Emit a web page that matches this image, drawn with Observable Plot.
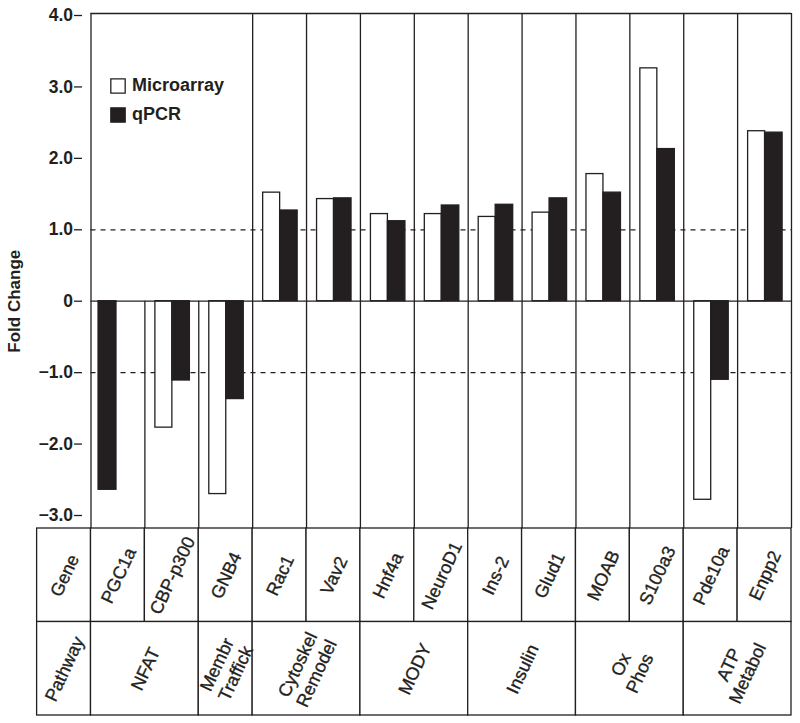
<!DOCTYPE html>
<html>
<head>
<meta charset="utf-8">
<script src="https://cdn.jsdelivr.net/npm/d3@7"></script>
<script src="https://cdn.jsdelivr.net/npm/@observablehq/plot@0.6"></script>
<style>
  html, body { margin: 0; padding: 0; background: #fff; }
  #wrap { width: 800px; }
  #wrap svg { display: block; overflow: visible; }
  #table { margin-top: -1px; }
</style>
</head>
<body>
<div id="wrap"><div id="chart"></div><div id="table"></div></div>
<script>
// ---- data ----
const genes = ["PGC1a","CBP-p300","GNB4","Rac1","Vav2","Hnf4a","NeuroD1","Ins-2","Glud1","MOAB","S100a3","Pde10a","Enpp2"];
const microarray = [null, -1.77, -2.70, 1.52, 1.43, 1.22, 1.22, 1.18, 1.24, 1.78, 3.26, -2.78, 2.38];
const qpcr = [-2.64, -1.11, -1.37, 1.27, 1.44, 1.12, 1.34, 1.35, 1.44, 1.52, 2.13, -1.10, 2.36];
const pathwayNames = ["NFAT", "Membr\nTraffick", "Cytoskel\nRemodel", "MODY", "Insulin", "Ox\nPhos", "ATP\nMetabol"];
const pathwaySizes = [2, 1, 2, 2, 2, 2, 2];
const yTicks = [-3, -2, -1, 0, 1, 2, 3, 4];
const seriesNames = ["Microarray", "qPCR"];
const rowLabels = ["Gene", "Pathway"];

// ---- styles ----
const FONT = "Liberation Sans, Arial, Helvetica, sans-serif";
const INK = "#231f20";
const LW = 1.3;
// bar slot positions within a gene column (fractions of a column)
const slots = {Microarray: [0.195, 0.51], qPCR: [0.51, 0.835], solo: [0.14, 0.473]};

const bars = [];
genes.forEach((g, i) => {
  const onlyOne = microarray[i] == null;
  if (microarray[i] != null) bars.push({i, series: "Microarray", slot: "Microarray", value: microarray[i]});
  if (qpcr[i] != null) bars.push({i, series: "qPCR", slot: onlyOne ? "solo" : "qPCR", value: qpcr[i]});
});

const xCols = {type: "linear", domain: [0, genes.length], range: [90.5, 791], axis: null};
const yMin = d3.min(yTicks), yMax = d3.max(yTicks);

const chart = Plot.plot({
  width: 800,
  height: 528,
  marginTop: 15,
  marginBottom: 13,
  marginLeft: 82,
  marginRight: 9,
  style: {fontFamily: FONT, fontSize: "16px", background: "white", overflow: "visible"},
  x: xCols,
  y: {domain: [yMin, yMax]},
  marks: [
    // frame and column separators
    Plot.ruleY([yMax], {x1: 0, x2: genes.length, dy: -2, stroke: INK, strokeWidth: LW}),
    Plot.ruleX([0, genes.length], {insetTop: -2, insetBottom: -13, stroke: INK, strokeWidth: LW}),
    Plot.ruleX(d3.range(3, genes.length), {insetTop: -2, insetBottom: -13, stroke: INK, strokeWidth: LW}),
    Plot.ruleX([1, 2], {y1: 0, y2: yMin, insetBottom: -13, stroke: INK, strokeWidth: LW}),
    // reference lines
    Plot.ruleY([1, -1], {x1: 0, x2: genes.length, stroke: INK, strokeWidth: LW, strokeDasharray: "5,5"}),
    // bars
    Plot.rectY(bars, {
      x1: d => d.i + slots[d.slot][0],
      x2: d => d.i + slots[d.slot][1],
      y: "value",
      fill: d => d.series === "Microarray" ? "white" : INK,
      stroke: INK,
      strokeWidth: LW
    }),
    Plot.ruleY([0], {x1: 0, x2: genes.length, stroke: INK, strokeWidth: LW}),
    // y axis
    Plot.axisY({
      ticks: yTicks,
      tickFormat: d => d === 0 ? "0" : d3.format(".1f")(d),
      tickSize: 8,
      tickPadding: 1.5,
      line: true,
      label: null,
      fontSize: 17.5,
      fontWeight: "bold",
      stroke: INK,
      strokeWidth: LW,
      fill: INK
    }),
    Plot.text(["Fold Change"], {y: () => 0, frameAnchor: "left", dx: -68, rotate: -90, textAnchor: "middle", lineAnchor: "middle", fontSize: 17, fontWeight: "bold", fill: INK}),
    // legend
    Plot.dot([seriesNames[0]], {frameAnchor: "top-left", dx: 35.5, dy: 70.5, symbol: "square", r: 8.1, fill: "white", stroke: INK, strokeWidth: LW}),
    Plot.dot([seriesNames[1]], {frameAnchor: "top-left", dx: 35.5, dy: 99.5, symbol: "square", r: 8.1, fill: INK, stroke: INK, strokeWidth: LW}),
    Plot.text([seriesNames[0]], {frameAnchor: "top-left", dx: 49.5, dy: 70, textAnchor: "start", lineAnchor: "middle", fontSize: 18, fontWeight: "bold", fill: INK}),
    Plot.text([seriesNames[1]], {frameAnchor: "top-left", dx: 49.5, dy: 99, textAnchor: "start", lineAnchor: "middle", fontSize: 18, fontWeight: "bold", fill: INK})
  ]
});
document.getElementById("chart").append(chart);

// ---- table ----
const cells = [];
cells.push({x1: -1, x2: 0, y1: 0, y2: 1, label: rowLabels[0]});
genes.forEach((g, i) => cells.push({x1: i, x2: i + 1, y1: 0, y2: 1, label: g}));
cells.push({x1: -1, x2: 0, y1: 1, y2: 2, label: rowLabels[1]});
let start = 0;
pathwayNames.forEach((p, k) => {
  cells.push({x1: start, x2: start + pathwaySizes[k], y1: 1, y2: 2, label: p});
  start += pathwaySizes[k];
});

const table = Plot.plot({
  width: 800,
  height: 190,
  margin: 0,
  style: {fontFamily: FONT, fontSize: "16px", background: "transparent", overflow: "visible"},
  x: xCols,
  y: {type: "linear", domain: [0, 2], range: [1, 188], axis: null},
  marks: [
    Plot.rect(cells, {x1: "x1", x2: "x2", y1: "y1", y2: "y2", fill: "white", stroke: INK, strokeWidth: LW}),
    Plot.text(cells, {
      x: d => (d.x1 + d.x2) / 2,
      y: d => (d.y1 + d.y2) / 2,
      text: "label",
      rotate: -65,
      fontSize: 18,
      lineHeight: 1.15,
      fill: INK,
      stroke: INK,
      strokeWidth: 0.35
    })
  ]
});
document.getElementById("table").append(table);
</script>
</body>
</html>
